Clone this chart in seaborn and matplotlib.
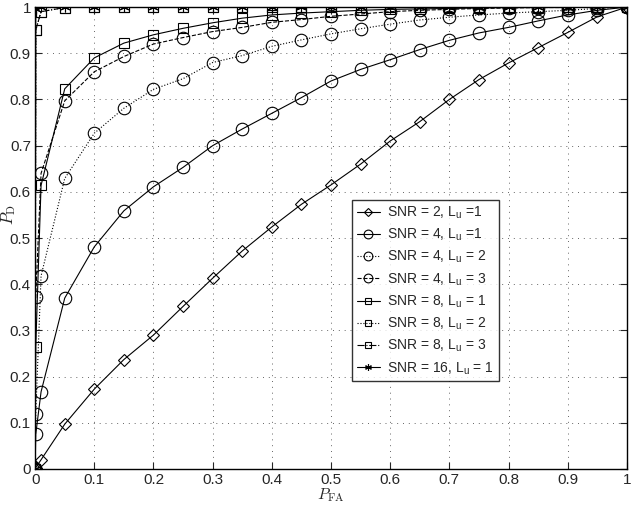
import numpy as np
import pandas as pd
import matplotlib
matplotlib.use('Agg')
import matplotlib.pyplot as plt
import seaborn as sns

# P_FA grid: 0, a point just off zero, 0.01, then steps of 0.05
pfa_grid = [0, 0.001, 0.01, 0.05, 0.1, 0.15, 0.2, 0.25, 0.3, 0.35, 0.4, 0.45,
            0.5, 0.55, 0.6, 0.65, 0.7, 0.75, 0.8, 0.85, 0.9, 0.95, 1.0]

pd_snr2_l1 = [0, 0.003, 0.02, 0.097, 0.173, 0.237, 0.29, 0.352, 0.413, 0.472, 0.524, 0.573,
              0.615, 0.66, 0.71, 0.752, 0.8, 0.843, 0.879, 0.912, 0.945, 0.979, 1.0]
pd_snr4_l1 = [0, 0.075, 0.167, 0.37, 0.481, 0.559, 0.611, 0.653, 0.7, 0.736, 0.77, 0.804,
              0.84, 0.865, 0.886, 0.908, 0.928, 0.944, 0.956, 0.97, 0.983, 0.993, 1.0]
pd_snr4_l2 = [0, 0.118, 0.418, 0.629, 0.727, 0.781, 0.822, 0.845, 0.88, 0.895, 0.915, 0.929,
              0.942, 0.953, 0.963, 0.972, 0.978, 0.983, 0.987, 0.99, 0.993, 0.997, 1.0]
pd_snr4_l3 = [0, 0.373, 0.64, 0.797, 0.86, 0.893, 0.92, 0.934, 0.947, 0.956, 0.967, 0.973,
              0.98, 0.985, 0.99, 0.993, 0.995, 0.997, 0.998, 0.999, 0.999, 1.0, 1.0]
pd_snr8_l1 = [0, 0.264, 0.614, 0.823, 0.89, 0.922, 0.94, 0.954, 0.966, 0.976, 0.983, 0.987,
              0.99, 0.993, 0.995, 0.996, 0.997, 0.998, 0.999, 0.999, 1.0, 1.0, 1.0]
pd_snr8_l2 = [0, 0.95, 0.99, 0.999, 1.0, 1.0, 1.0, 1.0, 1.0, 1.0, 1.0, 1.0,
              1.0, 1.0, 1.0, 1.0, 1.0, 1.0, 1.0, 1.0, 1.0, 1.0, 1.0]
pd_snr8_l3 = [0, 0.95, 0.99, 0.999, 1.0, 1.0, 1.0, 1.0, 1.0, 1.0, 1.0, 1.0,
              1.0, 1.0, 1.0, 1.0, 1.0, 1.0, 1.0, 1.0, 1.0, 1.0, 1.0]
pd_snr16_l1 = [0, 0.995, 1.0, 1.0, 1.0, 1.0, 1.0, 1.0, 1.0, 1.0, 1.0, 1.0,
               1.0, 1.0, 1.0, 1.0, 1.0, 1.0, 1.0, 1.0, 1.0, 1.0, 1.0]

series_labels = ['SNR = 2, L$_\\mathrm{u}$ =1', 'SNR = 4, L$_\\mathrm{u}$ =1',
                 'SNR = 4, L$_\\mathrm{u}$ = 2', 'SNR = 4, L$_\\mathrm{u}$ = 3',
                 'SNR = 8, L$_\\mathrm{u}$ = 1', 'SNR = 8, L$_\\mathrm{u}$ = 2',
                 'SNR = 8, L$_\\mathrm{u}$ = 3', 'SNR = 16, L$_\\mathrm{u}$ = 1']
series_values = [pd_snr2_l1, pd_snr4_l1, pd_snr4_l2, pd_snr4_l3,
                 pd_snr8_l1, pd_snr8_l2, pd_snr8_l3, pd_snr16_l1]

xtick_vals = [0, 0.1, 0.2, 0.3, 0.4, 0.5, 0.6, 0.7, 0.8, 0.9, 1]
tick_text = ['0', '0.1', '0.2', '0.3', '0.4', '0.5', '0.6', '0.7', '0.8', '0.9', '1']

# styles (marker, linestyle, markersize)
styles = [('D', '-', 6), ('o', '-', 9), ('o', ':', 9), ('o', '--', 9),
          ('s', '-', 6.5), ('s', ':', 6.5), ('s', '-.', 6.5), ((6, 2, 0), '-', 7)]

sns.set_style('ticks')
plt.rcParams['font.family'] = ['Liberation Sans', 'DejaVu Sans']
plt.rcParams['mathtext.fontset'] = 'custom'
plt.rcParams['mathtext.rm'] = 'Liberation Sans'
plt.rcParams['mathtext.it'] = 'Liberation Sans:italic'

fig = plt.figure(figsize=(6.39, 5.05), dpi=100)
ax = fig.add_axes([0.055, 0.0713, 0.926, 0.9147])

for lab, vals, (mk, ls, ms) in zip(series_labels, series_values, styles):
    df = pd.DataFrame({'pfa': pfa_grid, 'pd': vals})
    sns.lineplot(data=df, x='pfa', y='pd', ax=ax, color='black', linestyle=ls,
                 linewidth=0.8, marker=mk, markersize=ms, markerfacecolor='none',
                 markeredgecolor='black', markeredgewidth=0.8, label=lab, sort=False)

ax.set_xlim(0, 1)
ax.set_ylim(0, 1)
ax.set_xticks(xtick_vals)
ax.set_yticks(xtick_vals)
ax.set_xticklabels(tick_text, fontsize=11)
ax.set_yticklabels(tick_text, fontsize=11)
ax.tick_params(direction='in', length=5, width=0.8, top=True, right=True, pad=3)
ax.grid(True, linestyle=(0, (1, 5)), color='#666666', linewidth=0.7)
for sp in ax.spines.values():
    sp.set_linewidth(1.0)
    sp.set_color('black')

ax.set_xlabel(r'$P_{\rm FA}$', fontsize=11.5, math_fontfamily='cm')
ax.set_ylabel(r'$P_{\rm D}$', fontsize=12, math_fontfamily='cm')
ax.xaxis.set_label_coords(0.5, -0.038)
ax.yaxis.set_label_coords(-0.029, 0.55)

leg = ax.legend(loc='upper left', bbox_to_anchor=(0.535, 0.583), borderaxespad=0,
                fontsize=10, frameon=True, fancybox=False, edgecolor='black',
                handlelength=1.7, labelspacing=0.42, borderpad=0.35, handletextpad=0.5,
                markerscale=0.7)
leg.get_frame().set_linewidth(1.0)

fig.savefig('out.png', dpi=100)
